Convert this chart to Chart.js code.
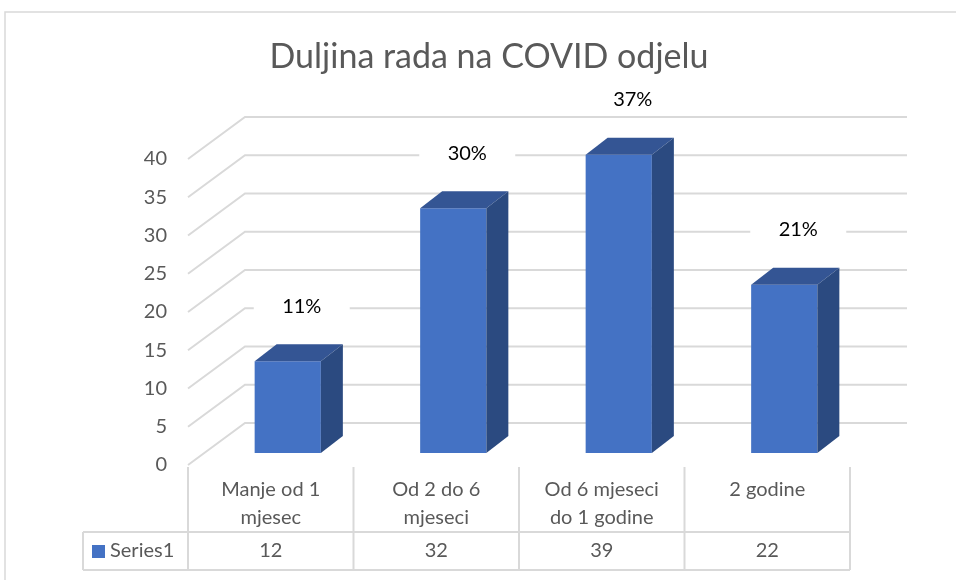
<!DOCTYPE html>
<html>
<head>
<meta charset="utf-8">
<script src="https://cdn.jsdelivr.net/npm/chart.js@4.4.1/dist/chart.umd.min.js"></script>
<style>
  body { margin: 0; background: #fff; }
  #wrap { width: 956px; height: 580px; }
</style>
</head>
<body>
<div id="wrap"><canvas id="grafico" width="956" height="580"></canvas></div>
<script>
// Data
const titulo = "Duljina rada na COVID odjelu";
const serie = "Series1";
const categorias = [["Manje od 1", "mjesec"], ["Od 2 do 6", "mjeseci"], ["Od 6 mjeseci", "do 1 godine"], ["2 godine"]];
const valores = [12, 32, 39, 22];
const ticksY = [0, 5, 10, 15, 20, 25, 30, 35, 40];

// Look
const FONT = "Lato, 'Open Sans', sans-serif";
const cinza = "#595959";
const linha = "#D9D9D9";
const azul = "#4472C4", azulTopo = "#345594", azulLado = "#2B4A80";
const DX = 22, DY = 17;          // bar depth
const BACK_X = 40, BACK_Y = 30;  // back wall offset from bar plane
const FRONT_X = -17, FRONT_Y = 12; // front edge offset from bar plane

const total = valores.reduce((a, b) => a + b, 0);

const plugin3d = {
  id: "plugin3d",
  beforeDatasetsDraw(chart) {
    const ctx = chart.ctx, area = chart.chartArea, y = chart.scales.y;
    ctx.save();
    // outer border
    ctx.strokeStyle = linha;
    ctx.lineWidth = 1.5;
    ctx.strokeRect(5, 12, 1000, 700);
    // title
    ctx.fillStyle = cinza;
    ctx.font = "34px " + FONT;
    ctx.textAlign = "center";
    ctx.textBaseline = "middle";
    ctx.fillText(titulo, 489, 57);
    // back wall + left wall grid
    ctx.strokeStyle = linha;
    ctx.lineWidth = 2;
    ticksY.forEach(v => {
      const py = y.getPixelForValue(v);
      ctx.beginPath();
      ctx.moveTo(area.left + FRONT_X, py + FRONT_Y);
      ctx.lineTo(area.left + BACK_X, py - BACK_Y);
      ctx.lineTo(area.right + BACK_X, py - BACK_Y);
      ctx.stroke();
    });
    // tick labels on the front edge
    ctx.fillStyle = cinza;
    ctx.font = "20px " + FONT;
    ctx.textAlign = "right";
    ticksY.forEach(v => {
      ctx.fillText(String(v), area.left + FRONT_X - 21, y.getPixelForValue(v) + FRONT_Y);
    });
    ctx.restore();
  },
  afterDatasetsDraw(chart) {
    const ctx = chart.ctx;
    const barras = chart.getDatasetMeta(0).data;
    ctx.save();
    barras.forEach((b, i) => {
      const l = b.x - b.width / 2, r = b.x + b.width / 2;
      // top face
      ctx.fillStyle = azulTopo;
      ctx.beginPath();
      ctx.moveTo(l, b.y);
      ctx.lineTo(l + DX, b.y - DY);
      ctx.lineTo(r + DX, b.y - DY);
      ctx.lineTo(r, b.y);
      ctx.closePath();
      ctx.fill();
      // side face
      ctx.fillStyle = azulLado;
      ctx.beginPath();
      ctx.moveTo(r, b.y);
      ctx.lineTo(r + DX, b.y - DY);
      ctx.lineTo(r + DX, b.base - DY);
      ctx.lineTo(r, b.base);
      ctx.closePath();
      ctx.fill();
      // percent label with white box
      const tx = b.x + 14, ty = b.y - 55;
      ctx.fillStyle = "#fff";
      ctx.fillRect(tx - 48, ty - 14, 96, 28);
      ctx.fillStyle = "#000";
      ctx.font = "20px " + FONT;
      ctx.textAlign = "center";
      ctx.textBaseline = "middle";
      ctx.fillText(Math.round(valores[i] / total * 100) + "%", tx, ty);
    });
    ctx.restore();
  },
  afterDraw(chart) {
    // data table under the chart
    const ctx = chart.ctx, area = chart.chartArea, x = chart.scales.x;
    const n = valores.length;
    const w = (area.right - area.left) / n;
    const x0 = area.left + FRONT_X;
    const yTop = area.bottom + 14, yMid = area.bottom + 79, yBot = area.bottom + 117;
    const xLeg = 83;
    ctx.save();
    ctx.strokeStyle = linha;
    ctx.lineWidth = 2;
    ctx.beginPath();
    for (let i = 0; i <= n; i++) {
      const xx = x0 + w * i;
      ctx.moveTo(xx, yTop);
      ctx.lineTo(xx, yBot);
    }
    ctx.moveTo(xLeg, yMid);
    ctx.lineTo(xLeg, yBot);
    ctx.moveTo(xLeg, yMid);
    ctx.lineTo(x0 + w * n, yMid);
    ctx.moveTo(xLeg, yBot);
    ctx.lineTo(x0 + w * n, yBot);
    ctx.stroke();

    ctx.fillStyle = cinza;
    ctx.font = "20px " + FONT;
    ctx.textAlign = "center";
    ctx.textBaseline = "middle";
    categorias.forEach((c, i) => {
      const cx = x.getPixelForValue(i) + FRONT_X;
      c.forEach((t, k) => ctx.fillText(t, cx, yTop + 23 + k * 28));
      ctx.fillText(String(valores[i]), cx, (yMid + yBot) / 2);
    });
    // legend key
    ctx.fillStyle = azul;
    ctx.fillRect(92, 545, 13, 13);
    ctx.fillStyle = cinza;
    ctx.textAlign = "left";
    ctx.fillText(serie, 110, (yMid + yBot) / 2);
    ctx.restore();
  }
};

const ctx = document.getElementById("grafico").getContext("2d");
const grafico = new Chart(ctx, {
  type: "bar",
  data: {
    labels: categorias,
    datasets: [{
      label: serie,
      data: valores,
      backgroundColor: azul,
      barPercentage: 0.4,
      categoryPercentage: 1
    }]
  },
  options: {
    responsive: false,
    animation: false,
    devicePixelRatio: 1,
    layout: { padding: { left: 205, right: 89, top: 147, bottom: 127 } },
    plugins: {
      legend: { display: false },
      tooltip: { enabled: false },
      title: { display: false }
    },
    scales: {
      x: { display: false },
      y: { display: false, min: 0, max: 40 }
    }
  },
  plugins: [plugin3d]
});
</script>
</body>
</html>
